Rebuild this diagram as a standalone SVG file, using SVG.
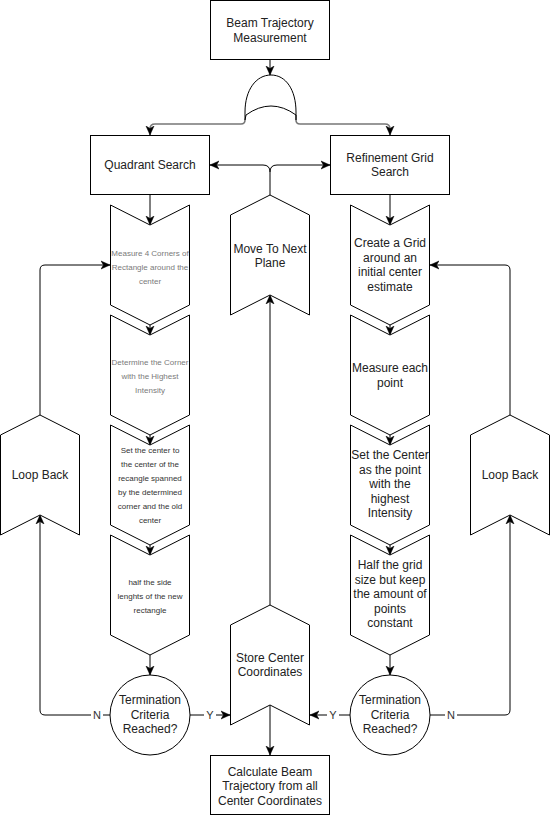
<svg xmlns="http://www.w3.org/2000/svg" width="552" height="816" viewBox="0 0 552 816">
  <style>
    .box { fill: #ffffff; stroke: #000000; stroke-width: 1; }
    .t { font-family: "Liberation Sans", Arial, sans-serif; font-size: 12px; fill: #222222; text-anchor: middle; }
    .s { font-family: "Liberation Sans", Arial, sans-serif; font-size: 8px; fill: #333333; text-anchor: middle; }
    .sl { fill: #7a7a7a; }
    .lbl { font-family: "Liberation Sans", Arial, sans-serif; font-size: 11px; fill: #333333; text-anchor: middle; }
    .edge { fill: none; stroke: #000000; stroke-width: 1; }
    .grey { fill: none; stroke: #777777; stroke-width: 1.6; }
  </style>
  <defs>
    <marker id="arr" markerUnits="userSpaceOnUse" markerWidth="10" markerHeight="10" refX="9" refY="5" orient="auto">
      <path d="M0,1 L9,5 L0,9 L2.5,5 Z" fill="#000000" stroke="#000000" stroke-width="0.5"/>
    </marker>
  </defs>
  <rect width="552" height="816" fill="#ffffff"/>

  <!-- connectors -->
  <g id="connectors">
    <path class="edge" d="M270,60 L270,75" marker-end="url(#arr)"/>
    <path class="grey" d="M245,120 Q245,124 241,124 L155,124 Q150,124 150,129 L150,135" marker-end="url(#arr)"/>
    <path class="grey" d="M296,120 Q296,124 300,124 L385,124 Q390,124 390,129 L390,135" marker-end="url(#arr)"/>
    <path class="edge" d="M150,195 L150,225" marker-end="url(#arr)"/>
    <path class="edge" d="M150,325 L150,335" marker-end="url(#arr)"/>
    <path class="edge" d="M150,435 L150,445" marker-end="url(#arr)"/>
    <path class="edge" d="M150,545 L150,555" marker-end="url(#arr)"/>
    <path class="edge" d="M150,655 L150,675" marker-end="url(#arr)"/>
    <path class="edge" d="M390,195 L390,225" marker-end="url(#arr)"/>
    <path class="edge" d="M390,325 L390,335" marker-end="url(#arr)"/>
    <path class="edge" d="M390,435 L390,445" marker-end="url(#arr)"/>
    <path class="edge" d="M390,545 L390,555" marker-end="url(#arr)"/>
    <path class="edge" d="M390,655 L390,675" marker-end="url(#arr)"/>
    <!-- yes branches into store -->
    <path class="edge" d="M190,715 L230,715" marker-end="url(#arr)"/>
    <path class="edge" d="M350,715 L310,715" marker-end="url(#arr)"/>
    <!-- no branches into loop back -->
    <path class="edge" d="M110,715 L45,715 Q40,715 40,710 L40,515" marker-end="url(#arr)"/>
    <path class="edge" d="M430,715 L505,715 Q510,715 510,710 L510,515" marker-end="url(#arr)"/>
    <path class="edge" d="M40,415 L40,270 Q40,265 45,265 L110,265" marker-end="url(#arr)"/>
    <path class="edge" d="M510,415 L510,270 Q510,265 505,265 L430,265" marker-end="url(#arr)"/>
    <!-- store -> next plane -> both searches -->
    <path class="edge" d="M270,605 L270,295" marker-end="url(#arr)"/>
    <path class="edge" d="M270,195 L270,172 Q270,165 263,165 L210,165" marker-end="url(#arr)"/>
    <path class="edge" d="M270,172 Q270,165 277,165 L330,165" marker-end="url(#arr)"/>
    <path class="edge" d="M270,705 L270,755" marker-end="url(#arr)"/>
    <!-- labels -->
    <rect x="204" y="708" width="12" height="14" fill="#ffffff"/>
    <text class="lbl" x="210" y="719">Y</text>
    <rect x="327" y="708" width="12" height="14" fill="#ffffff"/>
    <text class="lbl" x="333" y="719">Y</text>
    <rect x="91" y="708" width="12" height="14" fill="#ffffff"/>
    <text class="lbl" x="97" y="719">N</text>
    <rect x="445" y="708" width="12" height="14" fill="#ffffff"/>
    <text class="lbl" x="451" y="719">N</text>
  </g>

  <g id="start">
    <rect class="box" x="210.5" y="0.5" width="119" height="59"/>
    <text class="t" x="270" y="27">Beam Trajectory</text>
    <text class="t" x="270" y="42">Measurement</text>
  </g>

  <g id="fork">
    <path class="box" d="M245,120 L245,112 C245,90 256,75 271,75 C286,75 296,90 296,112 L296,120 L296,115 Q271,97 246,115 Z"/>
  </g>

  <g id="quadrant">
    <rect class="box" x="90.5" y="135.5" width="119" height="59"/>
    <text class="t" x="150" y="169">Quadrant Search</text>
  </g>

  <g id="refinement">
    <rect class="box" x="330.5" y="135.5" width="119" height="59"/>
    <text class="t" x="390" y="162">Refinement Grid</text>
    <text class="t" x="390" y="176">Search</text>
  </g>

  <g id="q1">
    <polygon class="box" points="110.5,205 150,225 189.5,205 189.5,305 150,325 110.5,305"/>
    <text class="s sl" x="150" y="256">Measure 4 Corners of</text>
    <text class="s sl" x="150" y="270">Rectangle around the</text>
    <text class="s sl" x="150" y="284">center</text>
  </g>
  <g id="q2">
    <polygon class="box" points="110.5,315 150,335 189.5,315 189.5,415 150,435 110.5,415"/>
    <text class="s sl" x="150" y="365">Determine the Corner</text>
    <text class="s sl" x="150" y="379">with the Highest</text>
    <text class="s sl" x="150" y="393">Intensity</text>
  </g>
  <g id="q3">
    <polygon class="box" points="110.5,425 150,445 189.5,425 189.5,525 150,545 110.5,525"/>
    <text class="s" x="150" y="453">Set the center to</text>
    <text class="s" x="150" y="467">the center of the</text>
    <text class="s" x="150" y="481">recangle spanned</text>
    <text class="s" x="150" y="495">by the determined</text>
    <text class="s" x="150" y="509">corner and the old</text>
    <text class="s" x="150" y="523">center</text>
  </g>
  <g id="q4">
    <polygon class="box" points="110.5,535 150,555 189.5,535 189.5,635 150,655 110.5,635"/>
    <text class="s" x="150" y="585">half the side</text>
    <text class="s" x="150" y="599">lenghts of the new</text>
    <text class="s" x="150" y="613">rectangle</text>
  </g>

  <g id="r1">
    <polygon class="box" points="350.5,205 390,225 429.5,205 429.5,305 390,325 350.5,305"/>
    <text class="t" x="390" y="247">Create a Grid</text>
    <text class="t" x="390" y="262">around an</text>
    <text class="t" x="390" y="276">initial center</text>
    <text class="t" x="390" y="291">estimate</text>
  </g>
  <g id="r2">
    <polygon class="box" points="350.5,315 390,335 429.5,315 429.5,415 390,435 350.5,415"/>
    <text class="t" x="390" y="372">Measure each</text>
    <text class="t" x="390" y="387">point</text>
  </g>
  <g id="r3">
    <polygon class="box" points="350.5,425 390,445 429.5,425 429.5,525 390,545 350.5,525"/>
    <text class="t" x="390" y="459">Set the Center</text>
    <text class="t" x="390" y="474">as the point</text>
    <text class="t" x="390" y="488">with the</text>
    <text class="t" x="390" y="503">highest</text>
    <text class="t" x="390" y="517">Intensity</text>
  </g>
  <g id="r4">
    <polygon class="box" points="350.5,535 390,555 429.5,535 429.5,635 390,655 350.5,635"/>
    <text class="t" x="390" y="569">Half the grid</text>
    <text class="t" x="390" y="584">size but keep</text>
    <text class="t" x="390" y="598">the amount of</text>
    <text class="t" x="390" y="613">points</text>
    <text class="t" x="390" y="627">constant</text>
  </g>

  <g id="term-left">
    <circle class="box" cx="150" cy="715" r="40"/>
    <text class="t" x="150" y="704">Termination</text>
    <text class="t" x="150" y="719">Criteria</text>
    <text class="t" x="150" y="733">Reached?</text>
  </g>
  <g id="term-right">
    <circle class="box" cx="390" cy="715" r="40"/>
    <text class="t" x="390" y="704">Termination</text>
    <text class="t" x="390" y="719">Criteria</text>
    <text class="t" x="390" y="733">Reached?</text>
  </g>

  <g id="loop-left">
    <polygon class="box" points="40,415 79.5,435 79.5,535 40,515 0.5,535 0.5,435"/>
    <text class="t" x="40" y="479">Loop Back</text>
  </g>
  <g id="loop-right">
    <polygon class="box" points="510,415 549.5,435 549.5,535 510,515 470.5,535 470.5,435"/>
    <text class="t" x="510" y="479">Loop Back</text>
  </g>

  <g id="next-plane">
    <polygon class="box" points="270,195 309.5,215 309.5,315 270,295 230.5,315 230.5,215"/>
    <text class="t" x="270" y="253">Move To Next</text>
    <text class="t" x="270" y="267">Plane</text>
  </g>

  <g id="store">
    <polygon class="box" points="270,605 309.5,625 309.5,725 270,705 230.5,725 230.5,625"/>
    <text class="t" x="270" y="662">Store Center</text>
    <text class="t" x="270" y="676">Coordinates</text>
  </g>

  <g id="calculate">
    <rect class="box" x="210.5" y="755.5" width="119" height="59"/>
    <text class="t" x="270" y="776">Calculate Beam</text>
    <text class="t" x="270" y="790">Trajectory from all</text>
    <text class="t" x="270" y="805">Center Coordinates</text>
  </g>
</svg>
